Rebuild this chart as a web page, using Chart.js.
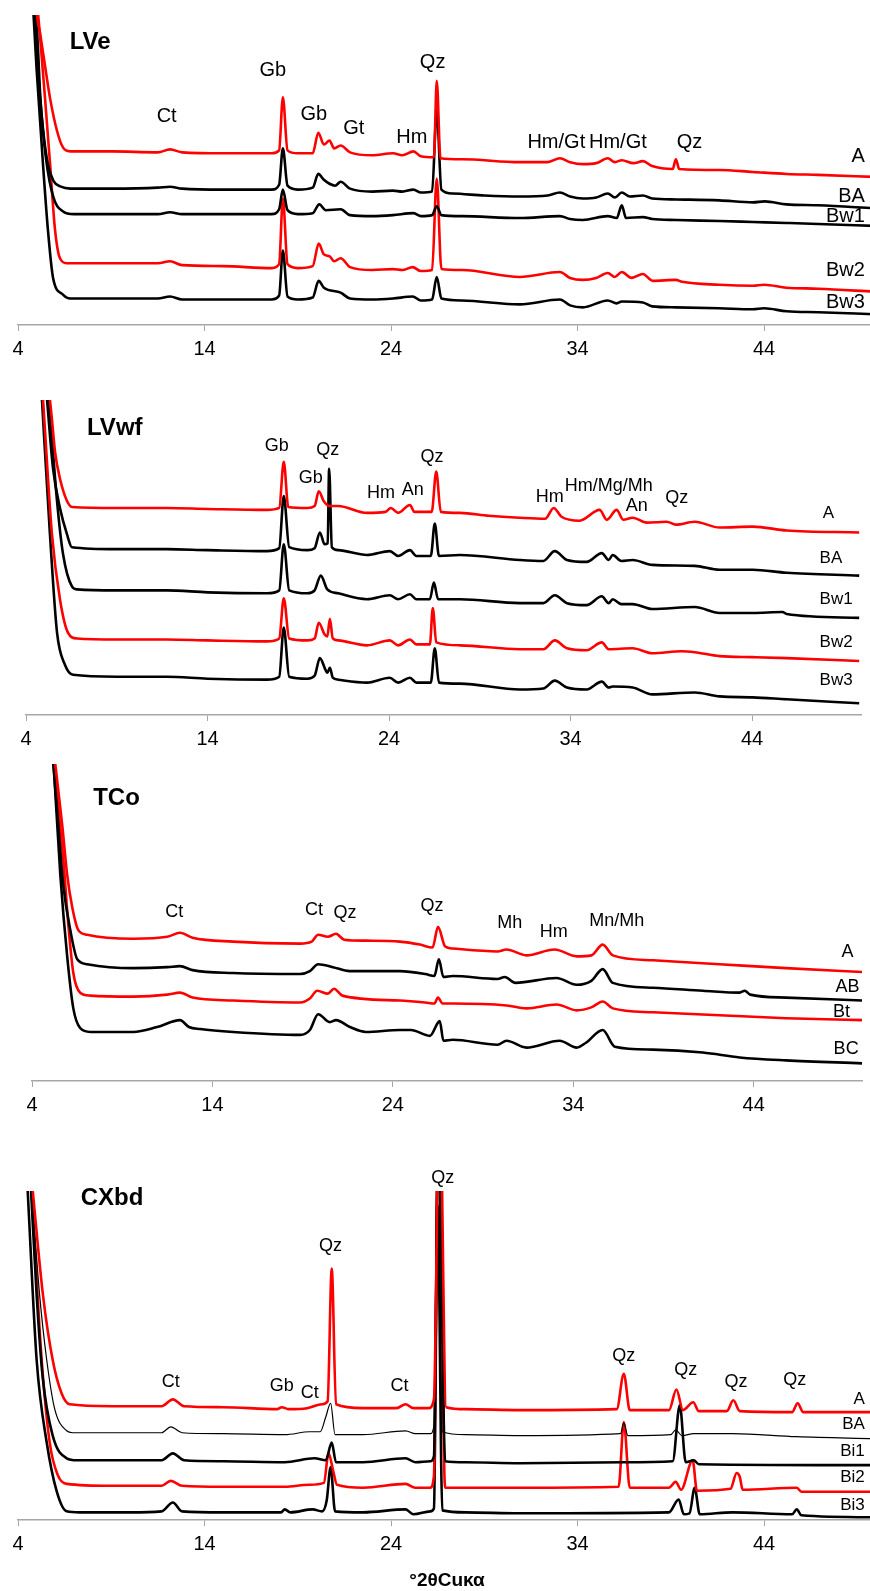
<!DOCTYPE html>
<html>
<head>
<meta charset="utf-8">
<script src="https://cdn.jsdelivr.net/npm/chart.js@4"></script>
<style>
  html, body { margin: 0; padding: 0; background: #fff; width: 870px; height: 1591px; overflow: hidden; }
  .panel { position: absolute; left: 0; }
</style>
</head>
<body>
<div class="panel" style="top:0px"><canvas id="p1" width="880" height="367"></canvas></div>
<div class="panel" style="top:380px"><canvas id="p2" width="870" height="377"></canvas></div>
<div class="panel" style="top:744px"><canvas id="p3" width="870" height="379"></canvas></div>
<div class="panel" style="top:1161px"><canvas id="p4" width="880" height="438"></canvas></div>
<script>
const FONT = "'Liberation Sans', Arial, sans-serif";
const RED = '#ff0000';
const BLACK = '#000000';

// tick labels on every 2theta axis
const xTicks = [4, 14, 24, 34, 44];

// ---- LVe : [2theta, intensity] ----
const lveA = [[4.9,360],[5.02,316],[5.18,298],[5.45,264],[5.72,231],[6.09,198],[6.41,181],[6.8,177],[9,177],[11.5,176],[12.15,179],[12.8,176],[15,175],[17.6,175],[18.0,178],[18.2,232],[18.45,178],[19,175],[19.8,175],[20.1,196],[20.4,184],[20.7,188],[20.95,180],[21.3,183],[21.8,176],[23,173],[24.1,175],[24.6,173],[25.2,177],[25.6,172],[26.3,171],[26.45,249],[26.65,170],[27.8,169],[30.9,166],[32.4,166],[33.05,170],[33.6,166],[34.28,164],[35.0,165],[35.62,170],[36.0,166],[36.37,168],[37.0,165],[37.5,167],[38.0,162],[39.1,159],[39.27,169],[39.45,159],[41.6,158],[43.4,156],[45.2,154],[46.9,153],[49.9,151]];
const lveBA = [[4.85,345],[5.05,290],[5.2,231],[5.35,198],[5.6,164],[5.9,147],[6.3,141],[6.8,139],[9,139],[11.5,140],[12.15,141],[12.8,139],[15,138],[17.6,138],[18.0,143],[18.2,180],[18.45,142],[19,138],[19.8,140],[20.1,154],[20.4,148],[20.7,144],[21.0,142],[21.3,146],[21.8,139],[23,136],[24.1,137],[24.6,136],[25.2,138],[25.6,135],[26.2,136],[26.45,219],[26.7,138],[27.3,134],[29,132],[30.9,131],[32.4,132],[33.05,135],[33.6,131],[34.28,129],[35.0,130],[35.62,134],[36.0,130],[36.37,135],[36.8,131],[37.5,132],[38.0,129],[39.3,128],[41.6,127],[43.4,125],[44.03,126],[45.2,123],[46.9,122],[49.9,119]];
const lveBw1 = [[4.8,345],[5.15,240],[5.5,170],[5.9,130],[6.4,116],[7,113],[9,113],[11.5,113],[12.15,115],[12.8,113],[15,113],[17.6,113],[18.0,118],[18.2,138],[18.45,117],[19,113],[19.8,114],[20.15,123],[20.5,117],[21.3,118],[21.8,112],[23,111],[24.1,112],[25.2,114],[25.6,111],[26.2,112],[26.45,121],[26.7,112],[27.8,111],[30.9,109],[33.05,111],[33.6,108],[34.28,107],[35.62,111],[36.1,109],[36.37,122],[36.6,109],[37.5,110],[38.0,108],[39.3,107],[41.6,106],[43.4,105],[45.2,104],[46.9,103],[49.9,101]];
const lveBw2 = [[4.95,345],[5.2,290],[5.45,231],[5.72,164],[5.98,98],[6.25,68],[6.61,63],[9,63],[11.5,63],[12.15,65],[12.8,61],[15,60],[17.6,58],[18.0,62],[18.2,129],[18.45,62],[19,58],[19.8,60],[20.12,83],[20.4,72],[20.71,70],[20.95,65],[21.3,68],[21.8,59],[23,56],[24.1,57],[24.6,56],[25.16,59],[25.6,55],[26.2,56],[26.45,149],[26.7,57],[27.8,56],[30.9,49],[33.05,54],[33.6,48],[34.28,46],[35.0,48],[35.62,53],[36.0,49],[36.37,54],[36.9,48],[37.5,52],[38.03,45],[39.27,46],[39.6,44],[41.6,41],[43.4,40],[44.0,41],[45.2,38],[46.9,37],[49.9,34]];
const lveBw3 = [[4.75,345],[5.0,260],[5.34,164],[5.6,98],[5.88,48],[6.41,31],[6.8,27],[9,27],[11.5,27],[12.15,29],[12.8,26],[15,26],[17.6,26],[18.0,30],[18.2,76],[18.45,29],[19,26],[19.8,28],[20.12,45],[20.4,38],[21.3,33],[21.8,27],[23,26],[24.1,27],[25.16,29],[25.6,25],[26.2,26],[26.45,49],[26.7,27],[27.8,25],[30.9,21],[33.05,26],[33.6,20],[34.28,18],[35.62,25],[36.1,22],[36.37,24],[37.5,23],[38.0,19],[39.27,18],[41.6,17],[43.4,16],[44.0,17],[45.2,14],[46.9,13],[49.9,11]];

// ---- LVwf ----
const lvwfA = [[5.32,321],[5.43,301],[5.6,268],[5.87,241],[6.26,218],[6.53,212],[9,211],[11.76,211],[14,210],[17.27,209],[17.95,211],[18.2,258],[18.45,212],[19.5,211],[19.9,213],[20.13,228],[20.4,218],[20.7,213],[21.2,213],[22.78,206],[23.8,207],[24.1,211],[24.5,206],[25.15,214],[25.4,207],[26.35,207],[26.6,248],[26.85,207],[27.9,206],[29.5,203],[31.2,201],[32.6,200],[33.07,211],[33.5,202],[34.5,198],[35.6,209],[36.0,199],[36.54,209],[36.9,199],[37.42,201],[38.2,196],[39.3,197],[39.8,194],[40.84,197],[42.21,191],[44.03,192],[45.9,188],[49.9,186]];
const lvwfBA = [[5.16,321],[5.49,251],[5.87,211],[6.26,184],[6.53,171],[9,169],[11.76,169],[14,168],[17.27,167],[17.95,170],[18.2,223],[18.5,171],[19.5,168],[19.9,170],[20.19,186],[20.45,174],[20.62,175],[20.7,251],[20.85,171],[21.2,168],[22.78,163],[24.04,167],[24.5,162],[25.15,168],[25.5,162],[26.3,162],[26.52,195],[26.75,162],[27.9,163],[31.2,158],[32.5,157],[33.13,167],[33.8,158],[34.89,156],[35.72,165],[36.1,158],[36.32,163],[36.8,157],[37.42,158],[38.5,153],[40.84,152],[42.21,148],[44.03,148],[45.9,145],[49.9,142]];
const lvwfBw1 = [[5.27,321],[5.71,218],[6.04,164],[6.53,131],[6.81,128],[9,127],[11.76,127],[14,125],[17.27,124],[17.95,127],[18.2,174],[18.5,127],[19.5,124],[19.9,127],[20.24,142],[20.6,128],[21.2,124],[22.78,118],[24.04,122],[24.5,118],[25.15,123],[25.5,118],[26.25,118],[26.47,135],[26.7,118],[27.9,118],[31.2,114],[32.5,114],[33.13,122],[33.8,114],[34.89,112],[35.72,121],[36.1,114],[36.32,118],[36.8,113],[37.42,113],[38.5,108],[40.84,110],[42.21,104],[44.03,104],[45.68,105],[45.9,103],[49.9,99]];
const lvwfBw2 = [[4.94,321],[5.43,184],[5.87,118],[6.31,84],[6.81,78],[9,77],[11.76,77],[14,76],[17.27,75],[17.95,78],[18.2,119],[18.5,78],[19.5,76],[19.9,78],[20.13,94],[20.45,82],[20.6,80],[20.74,98],[20.9,78],[21.2,76],[22.78,71],[24.04,76],[24.5,71],[25.15,77],[25.5,72],[26.25,72],[26.41,109],[26.6,74],[27.9,71],[31.2,67],[32.5,67],[33.13,76],[33.8,68],[34.89,66],[35.72,74],[36.1,67],[37.42,68],[38.5,63],[40.12,65],[40.84,64],[42.21,60],[44.03,59],[45.9,58],[49.9,55]];
const lvwfBw3 = [[4.88,321],[5.32,184],[5.71,84],[6.15,51],[6.59,41],[9,39],[11.76,39],[14,37],[17.27,36],[17.95,39],[18.2,89],[18.5,39],[19.5,37],[19.9,40],[20.19,58],[20.5,46],[20.6,43],[20.74,48],[20.9,38],[21.2,36],[22.78,33],[24.04,38],[24.5,33],[25.15,38],[25.5,33],[26.3,33],[26.52,68],[26.75,33],[27.9,32],[31.2,26],[32.5,27],[33.13,35],[33.8,28],[34.89,26],[35.72,34],[36.1,28],[36.32,29],[37.42,28],[38.5,21],[40.84,23],[42.21,19],[44.03,18],[45.9,16],[49.9,12]];

// ---- TCo ----
const tcoA = [[5.29,323],[5.68,260],[5.95,210],[6.23,177],[6.56,154],[7.06,149],[9.61,145],[11.5,147],[12.2,151],[12.9,146],[15.15,142],[18.86,140],[19.5,142],[19.86,149],[20.4,147],[20.85,150],[21.3,144],[22.5,143],[24.39,142],[25.5,139],[26.2,136],[26.5,157],[26.9,137],[27.32,135],[29.8,132],[30.3,134],[31.4,128],[32.96,134],[34.19,127],[35.0,128],[35.63,139],[36.19,128],[38.41,123],[42.11,119],[45.79,115],[50,111]];
const tcoAB = [[5.18,323],[5.46,260],[5.73,200],[6.12,154],[6.51,124],[7.06,119],[9.61,115],[11.5,116],[12.2,117],[12.9,113],[15.15,110],[18.86,109],[19.4,112],[19.86,119],[20.68,116],[21.6,112],[24.39,112],[25.8,109],[26.3,107],[26.55,124],[26.8,106],[27.32,107],[29.8,104],[30.2,106],[30.8,100],[33.07,105],[34.19,98],[35.0,102],[35.63,114],[36.19,100],[38.41,95],[41.18,92],[43.22,90],[43.5,92],[43.8,88],[45.79,85],[50,82]];
const tcoBt = [[5.2,323],[5.73,227],[6.01,160],[6.29,110],[6.67,90],[7.23,87],[9.61,86],[11.5,88],[12.2,90],[12.9,85],[15.15,82],[18.86,80],[19.4,84],[19.8,92],[20.4,89],[20.74,94],[21.2,87],[24.39,82],[25.8,80],[26.3,79],[26.5,85],[26.75,79],[27.32,79],[30.3,77],[31.4,74],[33.07,78],[34.19,72],[35.0,75],[35.63,81],[36.19,74],[38.41,70],[42.11,67],[45.79,64],[50,62]];
const tcoBC = [[5.2,323],[5.57,210],[5.95,127],[6.29,74],[6.67,54],[7.23,50],[9.61,50],[10.94,55],[12.2,62],[12.7,55],[13.32,53],[15.15,50],[18.86,47],[19.4,52],[19.86,68],[20.5,60],[20.85,62],[21.62,55],[22.5,50],[24.39,52],[25.0,52],[26.05,46],[26.6,61],[26.8,41],[27.32,42],[29.8,37],[30.3,41],[31.4,34],[33.24,41],[34.19,34],[34.7,39],[35.63,52],[36.3,35],[38.41,32],[41.18,29],[43.22,24],[45.79,21],[50,18]];

// ---- CXbd ----
const cxA = [[4.79,335],[5.34,229],[5.86,163],[6.34,129],[6.77,118],[9,116],[11.7,116],[12.3,123],[12.9,116],[15,115],[17.9,113],[18.14,115],[18.5,113],[19.5,114],[20.3,118],[20.6,121],[20.82,256],[21.05,118],[22.5,114],[24.3,114],[24.78,118],[25.2,114],[26.0,114],[26.3,123],[26.6,450],[26.95,115],[28,113],[30.9,112],[36.1,113],[36.48,149],[36.8,112],[38.9,112],[39.3,133],[39.65,112],[40.2,120],[40.5,111],[42.0,111],[42.35,122],[42.7,111],[45.5,110],[45.8,119],[46.1,110],[49.9,110]];
const cxBA = [[4.73,335],[5.16,229],[5.54,163],[5.97,113],[6.61,91],[6.93,89],[9,89],[11.7,89],[12.19,95],[12.8,89],[15,88],[18.3,87],[19.64,90],[20.2,90],[20.5,105],[20.76,119],[21.0,87],[22.5,87],[24.78,91],[25.3,88],[26.1,88],[26.3,96],[26.5,430],[26.75,90],[28,87],[30.9,86],[36.3,88],[36.48,99],[36.7,86],[39.0,87],[39.26,92],[39.6,86],[40.23,88],[42.3,88],[45.75,85],[49.9,83]];
const cxBi1 = [[4.7,335],[5.0,229],[5.32,146],[5.86,86],[6.61,63],[7.15,61],[9,61],[11.7,61],[12.3,68],[12.9,61],[15,60],[18.3,59],[19.9,63],[20.5,61],[20.82,79],[21.05,59],[22.5,59],[24.78,63],[25.3,59],[26.1,60],[26.3,65],[26.55,420],[26.9,60],[28,59],[30.9,58],[36.48,59],[39.1,60],[39.48,117],[39.8,59],[40.23,61],[40.5,57],[49.9,56]];
const cxBi2 = [[4.73,335],[5.27,163],[5.7,79],[6.13,46],[6.61,37],[9,35],[11.7,35],[12.19,40],[12.8,35],[15,34],[18.3,34],[19.6,36],[20.4,38],[20.65,68],[20.9,50],[21.1,36],[22.5,33],[24.78,37],[25.3,33],[26.1,33],[26.3,45],[26.55,440],[26.9,33],[28,33],[30.9,33],[36.2,34],[36.48,100],[36.8,33],[38.9,33],[39.26,39],[39.55,31],[40.17,61],[40.4,30],[42.2,32],[42.53,48],[42.7,44],[42.85,31],[45.75,33],[46.0,29],[49.9,29]];
const cxBi3 = [[4.52,335],[5.0,163],[5.54,79],[6.08,29],[6.61,9],[7.31,8],[10,8],[11.7,9],[12.3,18],[12.8,9],[15,8],[18.1,8],[18.3,11],[18.6,8],[19.8,11],[20.3,9],[20.55,20],[20.76,54],[21.0,9],[22.5,8],[24.78,11],[25.2,6],[26.1,9],[26.3,12],[26.5,320],[26.75,10],[28,8],[30.9,7],[38.9,8],[39.42,21],[39.7,6],[40.0,7],[40.28,33],[40.55,6],[42.3,8],[45.5,6],[45.75,11],[46.0,5],[49.9,3]];

// ---- text labels: [text, 2theta, intensity] ----
const lvePeaks = [['Ct',11.97,213],['Gb',17.66,259],['Gb',19.86,215],['Gt',22.0,200],['Hm',25.11,191],['Qz',26.23,268],['Hm/Gt',32.86,186],['Hm/Gt',36.16,186],['Qz',40.0,186]];
const lveSamples = [['A',49.4,172],['BA',49.4,131],['Bw1',49.4,111],['Bw2',49.4,56],['Bw3',49.4,23]];
const lvwfPeaks = [['Gb',17.82,274],['Gb',19.69,241],['Qz',20.63,270],['Hm',23.55,226],['An',25.31,229],['Qz',26.36,263],['Hm',32.85,222],['Hm/Mg/Mh',36.1,233],['An',37.65,213],['Qz',39.85,221]];
const lvwfSamples = [['A',47.89,206],['BA',47.72,160],['Bw1',47.72,118],['Bw2',47.72,74],['Bw3',47.72,35]];
const tcoPeaks = [['Ct',11.88,172],['Ct',19.63,174],['Qz',21.35,171],['Qz',26.17,178],['Mh',30.48,161],['Hm',32.92,152],['Mn/Mh',36.41,163]];
const tcoSamples = [['A',49.2,131],['AB',49.2,96],['Bt',48.87,70],['BC',49.12,33]];
const cxPeaks = [['Ct',12.19,141],['Gb',18.14,137],['Ct',19.64,129],['Qz',20.76,279],['Ct',24.46,137],['Qz',26.77,348],['Qz',36.48,167],['Qz',39.8,153],['Qz',42.5,141],['Qz',45.65,143]];
const cxSamples = [['A',49.4,123],['BA',49.4,98],['Bi1',49.4,70],['Bi2',49.4,44],['Bi3',49.4,15]];

Chart.defaults.font.family = FONT;

const notesPlugin = {
  id: 'notes',
  afterDatasetsDraw(chart, args, opts) {
    const ctx = chart.ctx;
    const x = chart.scales.x, y = chart.scales.y;
    ctx.save();
    ctx.fillStyle = '#000';
    ctx.textBaseline = 'middle';
    opts.groups.forEach(g => {
      ctx.font = g.font;
      ctx.textAlign = g.align;
      g.items.forEach(it => ctx.fillText(it[0], x.getPixelForValue(it[1]), y.getPixelForValue(it[2])));
    });
    ctx.restore();
  }
};

function makePanel(id, series, yMax, pad, groups, axisTitle) {
  new Chart(document.getElementById(id), {
    type: 'line',
    data: {
      datasets: series.map(s => ({
        data: s.data.map(p => ({x: p[0], y: p[1]})),
        borderColor: s.color,
        borderWidth: s.width || 2.6,
        borderJoinStyle: 'round',
        pointRadius: 0,
        cubicInterpolationMode: 'monotone'
      }))
    },
    options: {
      responsive: false,
      animation: false,
      layout: { padding: pad },
      plugins: {
        legend: { display: false },
        tooltip: { enabled: false },
        notes: { groups: groups }
      },
      scales: {
        x: {
          type: 'linear',
          min: 4,
          max: 50,
          afterBuildTicks: s => { s.ticks = xTicks.map(v => ({value: v})); },
          grid: { drawOnChartArea: false, tickLength: 6, color: '#a6a6a6' },
          border: { color: '#a6a6a6', width: 1.5 },
          ticks: { color: '#000', padding: 6, maxRotation: 0, autoSkip: false, font: { size: 20 } },
          title: axisTitle
            ? { display: true, text: axisTitle, color: '#000', padding: { top: 7, bottom: 7 }, font: { size: 19, weight: 'bold' } }
            : { display: false }
        },
        y: { display: false, min: 0, max: yMax }
      }
    },
    plugins: [notesPlugin]
  });
}

makePanel('p1', [
  { data: lveA, color: RED }, { data: lveBA, color: BLACK }, { data: lveBw1, color: BLACK },
  { data: lveBw2, color: RED }, { data: lveBw3, color: BLACK }
], 316, { left: 18, right: 4, top: 15, bottom: 0 }, [
  { font: 'bold 24px ' + FONT, align: 'left', items: [['LVe', 6.77, 288]] },
  { font: '20px ' + FONT, align: 'center', items: lvePeaks },
  { font: '20px ' + FONT, align: 'right', items: lveSamples }
]);

makePanel('p2', [
  { data: lvwfA, color: RED }, { data: lvwfBA, color: BLACK }, { data: lvwfBw1, color: BLACK },
  { data: lvwfBw2, color: RED }, { data: lvwfBw3, color: BLACK }
], 321, { left: 26, right: 9, top: 20, bottom: 0 }, [
  { font: 'bold 24px ' + FONT, align: 'left', items: [['LVwf', 7.36, 292]] },
  { font: '18px ' + FONT, align: 'center', items: lvwfPeaks },
  { font: '17px ' + FONT, align: 'left', items: lvwfSamples }
]);

makePanel('p3', [
  { data: tcoA, color: RED }, { data: tcoAB, color: BLACK }, { data: tcoBt, color: RED }, { data: tcoBC, color: BLACK }
], 323, { left: 32, right: 8, top: 20, bottom: 0 }, [
  { font: 'bold 24px ' + FONT, align: 'left', items: [['TCo', 7.39, 288]] },
  { font: '18px ' + FONT, align: 'center', items: tcoPeaks },
  { font: '18px ' + FONT, align: 'center', items: tcoSamples }
]);

makePanel('p4', [
  { data: cxA, color: RED }, { data: cxBA, color: BLACK, width: 1.2 }, { data: cxBi1, color: BLACK },
  { data: cxBi2, color: RED }, { data: cxBi3, color: BLACK }
], 335, { left: 18, right: 4, top: 30, bottom: 0 }, [
  { font: 'bold 24px ' + FONT, align: 'left', items: [['CXbd', 7.36, 328]] },
  { font: '18px ' + FONT, align: 'center', items: cxPeaks },
  { font: '17px ' + FONT, align: 'right', items: cxSamples }
], '°2θCuκα');
</script>
</body>
</html>
